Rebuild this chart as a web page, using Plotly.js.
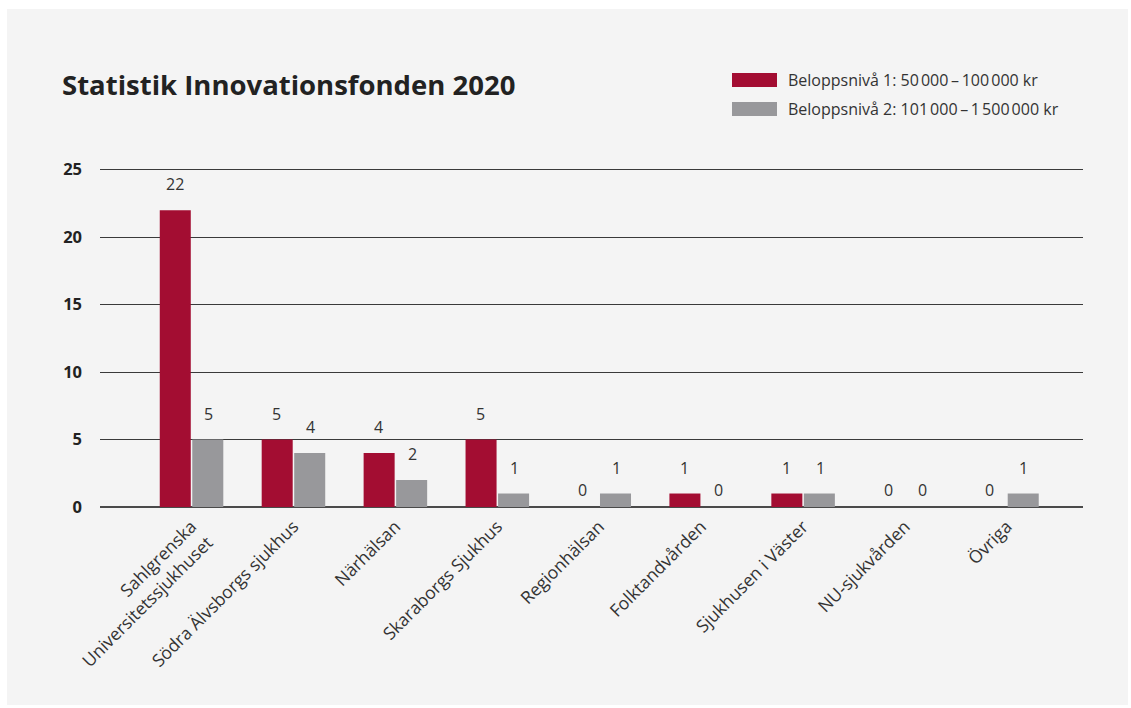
<!DOCTYPE html>
<html>
<head>
<meta charset="utf-8">
<script src="https://cdn.plot.ly/plotly-3.0.1.min.js"></script>
<style>
html,body{margin:0;padding:0;background:#ffffff;}
#chart{position:absolute;left:7px;top:9px;width:1121px;height:696px;}
</style>
</head>
<body>
<div id="chart"></div>
<script>
const categories = [
  "Sahlgrenska<br>Universitetssjukhuset",
  "Södra Älvsborgs sjukhus",
  "Närhälsan",
  "Skaraborgs Sjukhus",
  "Regionhälsan",
  "Folktandvården",
  "Sjukhusen i Väster",
  "NU-sjukvården",
  "Övriga"
];
const level1 = [22, 5, 4, 5, 0, 1, 1, 0, 0];
const level2 = [5, 4, 2, 1, 1, 0, 1, 0, 1];
const seriesNames = [
  "Beloppsnivå 1: 50\u202F000\u2009–\u2009100\u202F000 kr",
  "Beloppsnivå 2: 101\u202F000\u2009–\u20091\u202F500\u202F000 kr"
];
const yTicks = [0, 5, 10, 15, 20, 25];
const titleText = "Statistik Innovationsfonden 2020";

const colors = ["#a30d32", "#98989b"];
const font = "'Open Sans', 'Noto Sans', sans-serif";
const idx = categories.map((c, i) => i);

const traces = [level1, level2].map((vals, k) => ({
  type: "bar",
  name: seriesNames[k],
  x: idx,
  y: vals,
  marker: {color: colors[k]},
  hoverinfo: "none",
  showlegend: false
}));

const TOP = 158, PLOTH = 340, LEFT = 93, PLOTW = 983;

const annotations = [];
[level1, level2].forEach((vals, k) => {
  vals.forEach((v, i) => {
    annotations.push({
      x: i, y: v, xref: "x", yref: "y",
      text: String(v), showarrow: false,
      xanchor: "center", yanchor: "bottom",
      xshift: k === 0 ? -17 : 17,
      yshift: v === 0 ? 4 : 13,
      font: {family: font, size: 16, color: "#333333"}
    });
  });
});

// legend (custom, wide swatches)
const shapes = [];
seriesNames.forEach((n, k) => {
  const yTop = 64 + k * 29;  // px from top of div
  shapes.push({
    type: "rect", xref: "paper", yref: "paper",
    x0: (725 - LEFT) / PLOTW, x1: (770 - LEFT) / PLOTW,
    y0: 1 + (TOP - yTop) / PLOTH, y1: 1 + (TOP - yTop - 14) / PLOTH,
    fillcolor: colors[k], line: {width: 0}
  });
  annotations.push({
    xref: "paper", yref: "paper",
    x: (779 - LEFT) / PLOTW, y: 1 + (TOP - yTop - 7) / PLOTH,
    xanchor: "left", yanchor: "middle",
    text: n, showarrow: false,
    font: {family: font, size: 16, color: "#333333"}
  });
});

annotations.push({
  xref: "paper", yref: "paper",
  x: (53 - LEFT) / PLOTW, y: 1 + (TOP - 76) / PLOTH,
  xanchor: "left", yanchor: "middle",
  text: "<b>" + titleText + "</b>", showarrow: false,
  font: {family: font, size: 27.5, color: "#222222"}
});

const layout = {
  width: 1121, height: 696,
  paper_bgcolor: "#f4f4f4",
  plot_bgcolor: "#f4f4f4",
  margin: {l: LEFT, r: 45, t: TOP, b: 198},
  barmode: "group",
  bargap: 0.362,
  bargroupgap: 0.046,
  xaxis: {
    range: [-0.898, 8.746],
    tickmode: "array",
    tickvals: idx,
    ticktext: categories,
    tickangle: -45,
    showgrid: false,
    zeroline: false,
    showline: false,
    ticks: "",
    ticklabelstandoff: 5,
    tickfont: {family: font, size: 17.5, color: "#333333"},
    fixedrange: true
  },
  yaxis: {
    range: [0, 25.2],
    tickmode: "array",
    tickvals: yTicks,
    ticktext: yTicks.map(v => "<b>" + v + "</b>"),
    showgrid: true,
    gridcolor: "#3a3a3a",
    gridwidth: 1,
    zeroline: true,
    zerolinecolor: "#4a4a4a",
    zerolinewidth: 2,
    showline: false,
    ticks: "",
    ticklabelstandoff: 17,
    tickfont: {family: font, size: 16.5, color: "#222222"},
    fixedrange: true
  },
  shapes: shapes,
  annotations: annotations,
  font: {family: font}
};

Plotly.newPlot("chart", traces, layout, {displayModeBar: false, staticPlot: true});
</script>
</body>
</html>
